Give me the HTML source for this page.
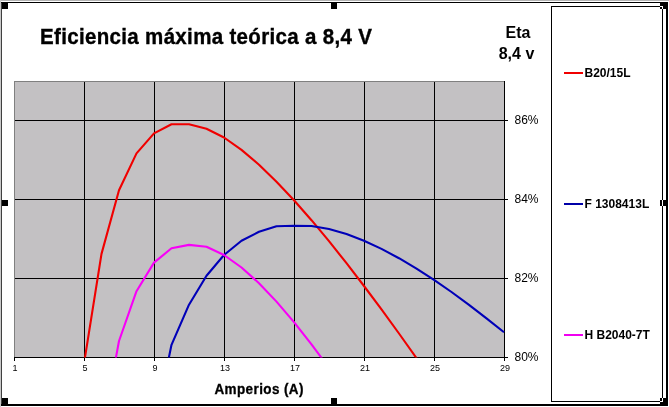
<!DOCTYPE html>
<html><head><meta charset="utf-8"><title>Eficiencia máxima teórica a 8,4 V</title>
<style>
html,body{margin:0;padding:0;background:#fff;}
body{width:669px;height:407px;overflow:hidden;}
svg{display:block;font-family:"Liberation Sans",Arial,sans-serif;}
.c{shape-rendering:crispEdges;}
.b{font-weight:bold;}
</style></head><body>
<svg width="669" height="407" viewBox="0 0 669 407">
<rect width="669" height="407" fill="#fff"/>
<g class="c">
<!-- outer frame -->
<rect x="0" y="0" width="669" height="1" fill="#b4b4b4"/>
<rect x="0" y="0" width="1" height="407" fill="#c8c8c8"/>
<rect x="1" y="2" width="1" height="404" fill="#404040"/>
<rect x="1" y="2" width="667" height="1" fill="#000"/>
<rect x="666" y="2" width="2" height="404" fill="#000"/>
<rect x="1" y="404" width="667" height="2" fill="#000"/>
<!-- plot area -->
<rect x="14" y="81" width="490" height="276" fill="#c3c1c3"/>
<rect x="14.5" y="81.5" width="490" height="276" fill="none" stroke="#808080" stroke-width="1"/>
<!-- gridlines -->
<g fill="#000">
<rect x="15" y="120" width="490" height="1"/>
<rect x="15" y="199" width="490" height="1"/>
<rect x="15" y="278" width="490" height="1"/>
<rect x="84" y="82" width="1" height="276"/>
<rect x="154" y="82" width="1" height="276"/>
<rect x="224" y="82" width="1" height="276"/>
<rect x="294" y="82" width="1" height="276"/>
<rect x="364" y="82" width="1" height="276"/>
<rect x="434" y="82" width="1" height="276"/>
<!-- axes -->
<rect x="504" y="81" width="1" height="277"/>
<rect x="14" y="357" width="491" height="1"/>
<!-- ticks y -->
<rect x="504" y="120" width="4" height="1"/>
<rect x="504" y="199" width="4" height="1"/>
<rect x="504" y="278" width="4" height="1"/>
<rect x="504" y="357" width="4" height="1"/>
<!-- ticks x -->
<rect x="14" y="357" width="1" height="4"/>
<rect x="84" y="357" width="1" height="4"/>
<rect x="154" y="357" width="1" height="4"/>
<rect x="224" y="357" width="1" height="4"/>
<rect x="294" y="357" width="1" height="4"/>
<rect x="364" y="357" width="1" height="4"/>
<rect x="434" y="357" width="1" height="4"/>
<rect x="504" y="357" width="1" height="4"/>
</g>
<!-- legend box -->
<rect x="551.5" y="6.5" width="111" height="395" fill="#fff" stroke="#000" stroke-width="1"/>
<!-- legend keys -->
<rect x="564" y="72" width="19" height="2" fill="#f00000"/>
<rect x="564" y="203" width="19" height="2" fill="#0000a8"/>
<rect x="564" y="334" width="19" height="2" fill="#f000f0"/>
<!-- selection handles -->
<g fill="#000">
<rect x="2" y="3" width="6" height="6"/>
<rect x="331" y="3" width="6" height="6"/>
<rect x="660" y="3" width="6" height="6"/>
<rect x="2" y="200" width="6" height="6"/>
<rect x="660" y="200" width="6" height="6"/>
<rect x="2" y="398" width="6" height="6"/>
<rect x="331" y="398" width="6" height="6"/>
<rect x="660" y="398" width="6" height="6"/>
</g>
<g fill="#fff">
<rect x="660" y="6" width="3" height="1"/><rect x="662" y="6" width="1" height="3"/>
<rect x="662" y="200" width="1" height="6"/>
<rect x="660" y="401" width="3" height="1"/><rect x="662" y="398" width="1" height="4"/>
</g>
</g>
<!-- series -->
<defs><clipPath id="pc"><rect x="14" y="81" width="491" height="276.5"/></clipPath></defs>
<g clip-path="url(#pc)" fill="none" stroke-width="2.1" stroke-linejoin="round">
<polyline stroke="#f00000" points="66.5,562.5 84,363.7 101.5,253.9 119,190.2 136.5,153.4 154,133.4 171.5,124.3 189,124.2 206.5,128.8 224,137.5 241.5,149.9 259,164.7 276.5,181.7 294,200.2 311.5,220.2 329,241.2 346.5,263.2 364,286 381.5,309.4 399,333.5 416.5,358.1 434,383.1"/>
<polyline stroke="#0000b8" points="154,430 171.5,344.8 189,304.7 206.5,275.7 224,255 241.5,240.8 259,231.8 276.5,226.2 294,225.8 311.5,226 329,229 346.5,234 364,240.8 381.5,248.9 399,258.2 416.5,268.6 434,279.9 451.5,292 469,304.8 486.5,318.3 504,332.3"/>
<polyline stroke="#f800f8" points="101.5,436 119,341 136.5,291.2 154,262.6 171.5,248.3 189,244.9 206.5,246.7 224,255 241.5,267.5 259,283.2 276.5,301.6 294,322.1 311.5,344.3 329,368"/>
</g>
<!-- texts -->
<text id="title" class="b" transform="translate(40,43.5) scale(1,1.06)" x="0" y="0" font-size="20.5" letter-spacing="0.34" fill="#000" stroke="#000" stroke-width="0.35">Eficiencia máxima teórica a 8,4 V</text>
<text id="eta1" class="b" x="518" y="38" font-size="16" text-anchor="middle">Eta</text>
<text id="eta2" class="b" x="516.5" y="59" font-size="16" text-anchor="middle">8,4 v</text>
<g font-size="12" id="ylab">
<text x="514.5" y="124">86%</text>
<text x="514.5" y="203">84%</text>
<text x="514.5" y="282">82%</text>
<text x="514.5" y="361">80%</text>
</g>
<g font-size="9" text-anchor="middle" id="xlab">
<text x="15" y="371">1</text>
<text x="85" y="371">5</text>
<text x="155" y="371">9</text>
<text x="225" y="371">13</text>
<text x="295" y="371">17</text>
<text x="365" y="371">21</text>
<text x="435" y="371">25</text>
<text x="505" y="371">29</text>
</g>
<text id="xt" class="b" transform="translate(214.5,393.7) scale(1,1.02)" x="0" y="0" font-size="13.5" letter-spacing="0.38" stroke="#000" stroke-width="0.3">Amperios (A)</text>
<g font-size="12" class="b" id="leg">
<text x="584.5" y="77">B20/15L</text>
<text x="584.5" y="208">F 1308413L</text>
<text x="584.5" y="339">H B2040-7T</text>
</g>
</svg>
</body></html>
